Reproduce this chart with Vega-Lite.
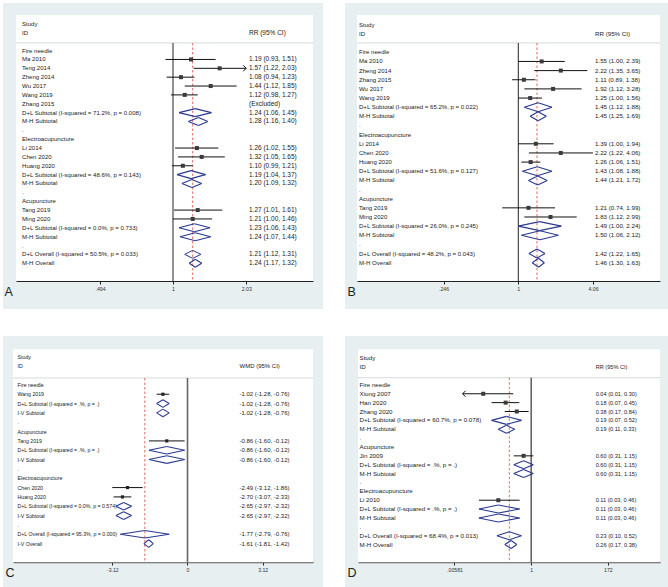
{
  "$schema": "https://vega.github.io/schema/vega-lite/v6.json",
  "background": "white",
  "padding": {"left": 3, "top": 3, "right": 0, "bottom": 0},
  "config": {
    "view": {"stroke": null, "fill": "#e8eff1"},
    "axisY": {"disable": true},
    "axisX": {"grid": false, "domainColor": "#222", "domainWidth": 1, "tickColor": "#222", "tickSize": 3, "labelFont": "Liberation Sans", "labelFontSize": 5.2, "labelColor": "#333", "labelPadding": 2, "labelFlush": false, "titleFont": "Liberation Sans", "titleFontSize": 12.5, "titleFontWeight": "normal", "titleColor": "#222", "titleAnchor": "start", "titleAlign": "left", "titleBaseline": "middle"},
    "text": {"font": "Liberation Sans", "color": "#222"}
  },
  "datasets": {
    "A": [
      {"r": -3, "label": "Study", "type": "head"},
      {"r": -2, "label": "ID", "type": "head", "ci": "RR (95% CI)"},
      {"r": 0, "label": "Fire needle", "type": "group"},
      {"r": 1, "label": "Ma 2010", "type": "study", "est": 1.19, "lo": 0.93, "hi": 1.51, "ci": "1.19 (0.93, 1.51)"},
      {"r": 2, "label": "Teng 2014", "type": "study", "est": 1.57, "lo": 1.22, "hi": 2.03, "ci": "1.57 (1.22, 2.03)", "arrow": "right"},
      {"r": 3, "label": "Zheng 2014", "type": "study", "est": 1.08, "lo": 0.94, "hi": 1.23, "ci": "1.08 (0.94, 1.23)"},
      {"r": 4, "label": "Wu 2017", "type": "study", "est": 1.44, "lo": 1.12, "hi": 1.85, "ci": "1.44 (1.12, 1.85)"},
      {"r": 5, "label": "Wang 2019", "type": "study", "est": 1.12, "lo": 0.98, "hi": 1.27, "ci": "1.12 (0.98, 1.27)"},
      {"r": 6, "label": "Zhang 2015", "type": "excl", "ci": "(Excluded)"},
      {"r": 7, "label": "D+L Subtotal  (I-squared = 71.2%, p = 0.008)", "type": "pool", "est": 1.24, "lo": 1.06, "hi": 1.45, "ci": "1.24 (1.06, 1.45)"},
      {"r": 8, "label": "M-H Subtotal", "type": "pool", "est": 1.28, "lo": 1.16, "hi": 1.40, "ci": "1.28 (1.16, 1.40)"},
      {"r": 9, "label": ".", "type": "blank"},
      {"r": 10, "label": "Electroacupuncture", "type": "group"},
      {"r": 11, "label": "Li 2014", "type": "study", "est": 1.26, "lo": 1.02, "hi": 1.55, "ci": "1.26 (1.02, 1.55)"},
      {"r": 12, "label": "Chen 2020", "type": "study", "est": 1.32, "lo": 1.05, "hi": 1.65, "ci": "1.32 (1.05, 1.65)"},
      {"r": 13, "label": "Huang 2020", "type": "study", "est": 1.10, "lo": 0.99, "hi": 1.21, "ci": "1.10 (0.99, 1.21)"},
      {"r": 14, "label": "D+L Subtotal  (I-squared = 48.6%, p = 0.143)", "type": "pool", "est": 1.19, "lo": 1.04, "hi": 1.37, "ci": "1.19 (1.04, 1.37)"},
      {"r": 15, "label": "M-H Subtotal", "type": "pool", "est": 1.20, "lo": 1.09, "hi": 1.32, "ci": "1.20 (1.09, 1.32)"},
      {"r": 16, "label": ".", "type": "blank"},
      {"r": 17, "label": "Acupuncture", "type": "group"},
      {"r": 18, "label": "Tang 2019", "type": "study", "est": 1.27, "lo": 1.01, "hi": 1.61, "ci": "1.27 (1.01, 1.61)"},
      {"r": 19, "label": "Ming 2020", "type": "study", "est": 1.21, "lo": 1.00, "hi": 1.46, "ci": "1.21 (1.00, 1.46)"},
      {"r": 20, "label": "D+L Subtotal  (I-squared = 0.0%, p = 0.733)", "type": "pool", "est": 1.23, "lo": 1.06, "hi": 1.43, "ci": "1.23 (1.06, 1.43)"},
      {"r": 21, "label": "M-H Subtotal", "type": "pool", "est": 1.24, "lo": 1.07, "hi": 1.44, "ci": "1.24 (1.07, 1.44)"},
      {"r": 22, "label": ".", "type": "blank"},
      {"r": 23, "label": "D+L Overall  (I-squared = 50.5%, p = 0.033)", "type": "overall", "est": 1.21, "lo": 1.12, "hi": 1.31, "ci": "1.21 (1.12, 1.31)"},
      {"r": 24, "label": "M-H Overall", "type": "overall", "est": 1.24, "lo": 1.17, "hi": 1.32, "ci": "1.24 (1.17, 1.32)"}
    ],
    "B": [
      {"r": -3, "label": "Study", "type": "head"},
      {"r": -2, "label": "ID", "type": "head", "ci": "RR (95% CI)"},
      {"r": 0, "label": "Fire needle", "type": "group"},
      {"r": 1, "label": "Ma 2010", "type": "study", "est": 1.55, "lo": 1.00, "hi": 2.39, "ci": "1.55 (1.00, 2.39)"},
      {"r": 2, "label": "Zheng 2014", "type": "study", "est": 2.22, "lo": 1.35, "hi": 3.65, "ci": "2.22 (1.35, 3.65)"},
      {"r": 3, "label": "Zhang 2015", "type": "study", "est": 1.11, "lo": 0.89, "hi": 1.38, "ci": "1.11 (0.89, 1.38)"},
      {"r": 4, "label": "Wu 2017", "type": "study", "est": 1.92, "lo": 1.12, "hi": 3.28, "ci": "1.92 (1.12, 3.28)"},
      {"r": 5, "label": "Wang 2019", "type": "study", "est": 1.25, "lo": 1.00, "hi": 1.56, "ci": "1.25 (1.00, 1.56)"},
      {"r": 6, "label": "D+L Subtotal  (I-squared = 65.2%, p = 0.022)", "type": "pool", "est": 1.45, "lo": 1.12, "hi": 1.88, "ci": "1.45 (1.12, 1.88)"},
      {"r": 7, "label": "M-H Subtotal", "type": "pool", "est": 1.45, "lo": 1.25, "hi": 1.69, "ci": "1.45 (1.25, 1.69)"},
      {"r": 8, "label": ".", "type": "blank"},
      {"r": 9, "label": "Electroacupuncture", "type": "group"},
      {"r": 10, "label": "Li 2014", "type": "study", "est": 1.39, "lo": 1.00, "hi": 1.94, "ci": "1.39 (1.00, 1.94)"},
      {"r": 11, "label": "Chen 2020", "type": "study", "est": 2.22, "lo": 1.22, "hi": 4.06, "ci": "2.22 (1.22, 4.06)"},
      {"r": 12, "label": "Huang 2020", "type": "study", "est": 1.26, "lo": 1.06, "hi": 1.51, "ci": "1.26 (1.06, 1.51)"},
      {"r": 13, "label": "D+L Subtotal  (I-squared = 51.6%, p = 0.127)", "type": "pool", "est": 1.43, "lo": 1.08, "hi": 1.88, "ci": "1.43 (1.08, 1.88)"},
      {"r": 14, "label": "M-H Subtotal", "type": "pool", "est": 1.44, "lo": 1.21, "hi": 1.72, "ci": "1.44 (1.21, 1.72)"},
      {"r": 15, "label": ".", "type": "blank"},
      {"r": 16, "label": "Acupuncture", "type": "group"},
      {"r": 17, "label": "Tang 2019", "type": "study", "est": 1.21, "lo": 0.74, "hi": 1.99, "ci": "1.21 (0.74, 1.99)"},
      {"r": 18, "label": "Ming 2020", "type": "study", "est": 1.83, "lo": 1.12, "hi": 2.99, "ci": "1.83 (1.12, 2.99)"},
      {"r": 19, "label": "D+L Subtotal  (I-squared = 26.0%, p = 0.245)", "type": "pool", "est": 1.49, "lo": 1.00, "hi": 2.24, "ci": "1.49 (1.00, 2.24)"},
      {"r": 20, "label": "M-H Subtotal", "type": "pool", "est": 1.50, "lo": 1.06, "hi": 2.12, "ci": "1.50 (1.06, 2.12)"},
      {"r": 21, "label": ".", "type": "blank"},
      {"r": 22, "label": "D+L Overall  (I-squared = 48.2%, p = 0.043)", "type": "overall", "est": 1.42, "lo": 1.22, "hi": 1.65, "ci": "1.42 (1.22, 1.65)"},
      {"r": 23, "label": "M-H Overall", "type": "overall", "est": 1.46, "lo": 1.30, "hi": 1.63, "ci": "1.46 (1.30, 1.63)"}
    ],
    "C": [
      {"r": -3, "label": "Study", "type": "head"},
      {"r": -2, "label": "ID", "type": "head", "ci": "WMD (95% CI)"},
      {"r": 0, "label": "Fire needle", "type": "group"},
      {"r": 1, "label": "Wang 2019", "type": "study", "est": -1.02, "lo": -1.28, "hi": -0.76, "ci": "-1.02 (-1.28, -0.76)"},
      {"r": 2, "label": "D+L Subtotal  (I-squared = .%, p = .)", "type": "pool", "est": -1.02, "lo": -1.28, "hi": -0.76, "ci": "-1.02 (-1.28, -0.76)"},
      {"r": 3, "label": "I-V Subtotal", "type": "pool", "est": -1.02, "lo": -1.28, "hi": -0.76, "ci": "-1.02 (-1.28, -0.76)"},
      {"r": 4, "label": ".", "type": "blank"},
      {"r": 5, "label": "Acupuncture", "type": "group"},
      {"r": 6, "label": "Tang 2019", "type": "study", "est": -0.86, "lo": -1.60, "hi": -0.12, "ci": "-0.86 (-1.60, -0.12)"},
      {"r": 7, "label": "D+L Subtotal  (I-squared = .%, p = .)", "type": "pool", "est": -0.86, "lo": -1.60, "hi": -0.12, "ci": "-0.86 (-1.60, -0.12)"},
      {"r": 8, "label": "I-V Subtotal", "type": "pool", "est": -0.86, "lo": -1.60, "hi": -0.12, "ci": "-0.86 (-1.60, -0.12)"},
      {"r": 9, "label": ".", "type": "blank"},
      {"r": 10, "label": "Electroacupuncture", "type": "group"},
      {"r": 11, "label": "Chen 2020", "type": "study", "est": -2.49, "lo": -3.12, "hi": -1.86, "ci": "-2.49 (-3.12, -1.86)"},
      {"r": 12, "label": "Huang 2020", "type": "study", "est": -2.70, "lo": -3.07, "hi": -2.33, "ci": "-2.70 (-3.07, -2.33)"},
      {"r": 13, "label": "D+L Subtotal  (I-squared = 0.0%, p = 0.574)", "type": "pool", "est": -2.65, "lo": -2.97, "hi": -2.32, "ci": "-2.65 (-2.97, -2.32)"},
      {"r": 14, "label": "I-V Subtotal", "type": "pool", "est": -2.65, "lo": -2.97, "hi": -2.32, "ci": "-2.65 (-2.97, -2.32)"},
      {"r": 15, "label": ".", "type": "blank"},
      {"r": 16, "label": "D+L Overall  (I-squared = 95.3%, p = 0.000)", "type": "overall", "est": -1.77, "lo": -2.79, "hi": -0.76, "ci": "-1.77 (-2.79, -0.76)"},
      {"r": 17, "label": "I-V Overall", "type": "overall", "est": -1.61, "lo": -1.81, "hi": -1.42, "ci": "-1.61 (-1.81, -1.42)"}
    ],
    "D": [
      {"r": -3, "label": "Study", "type": "head"},
      {"r": -2, "label": "ID", "type": "head", "ci": "RR (95% CI)"},
      {"r": 0, "label": "Fire needle", "type": "group"},
      {"r": 1, "label": "Xiong 2007", "type": "study", "est": 0.04, "lo": 0.01, "hi": 0.30, "ci": "0.04 (0.01, 0.30)", "arrow": "left"},
      {"r": 2, "label": "Han 2020", "type": "study", "est": 0.18, "lo": 0.07, "hi": 0.45, "ci": "0.18 (0.07, 0.45)"},
      {"r": 3, "label": "Zhang 2020", "type": "study", "est": 0.38, "lo": 0.17, "hi": 0.84, "ci": "0.38 (0.17, 0.84)"},
      {"r": 4, "label": "D+L Subtotal  (I-squared = 60.7%, p = 0.078)", "type": "pool", "est": 0.19, "lo": 0.07, "hi": 0.52, "ci": "0.19 (0.07, 0.52)"},
      {"r": 5, "label": "M-H Subtotal", "type": "pool", "est": 0.19, "lo": 0.11, "hi": 0.33, "ci": "0.19 (0.11, 0.33)"},
      {"r": 6, "label": ".", "type": "blank"},
      {"r": 7, "label": "Acupuncture", "type": "group"},
      {"r": 8, "label": "Jin 2009", "type": "study", "est": 0.60, "lo": 0.31, "hi": 1.15, "ci": "0.60 (0.31, 1.15)"},
      {"r": 9, "label": "D+L Subtotal  (I-squared = .%, p = .)", "type": "pool", "est": 0.60, "lo": 0.31, "hi": 1.15, "ci": "0.60 (0.31, 1.15)"},
      {"r": 10, "label": "M-H Subtotal", "type": "pool", "est": 0.60, "lo": 0.31, "hi": 1.15, "ci": "0.60 (0.31, 1.15)"},
      {"r": 11, "label": ".", "type": "blank"},
      {"r": 12, "label": "Electroacupuncture", "type": "group"},
      {"r": 13, "label": "Li 2010", "type": "study", "est": 0.11, "lo": 0.03, "hi": 0.46, "ci": "0.11 (0.03, 0.46)"},
      {"r": 14, "label": "D+L Subtotal  (I-squared = .%, p = .)", "type": "pool", "est": 0.11, "lo": 0.03, "hi": 0.46, "ci": "0.11 (0.03, 0.46)"},
      {"r": 15, "label": "M-H Subtotal", "type": "pool", "est": 0.11, "lo": 0.03, "hi": 0.46, "ci": "0.11 (0.03, 0.46)"},
      {"r": 16, "label": ".", "type": "blank"},
      {"r": 17, "label": "D+L Overall  (I-squared = 68.4%, p = 0.013)", "type": "overall", "est": 0.23, "lo": 0.10, "hi": 0.52, "ci": "0.23 (0.10, 0.52)"},
      {"r": 18, "label": "M-H Overall", "type": "overall", "est": 0.26, "lo": 0.17, "hi": 0.38, "ci": "0.26 (0.17, 0.38)"}
    ]
  },
  "vconcat": [
    {
      "hconcat": [
        {
          "width": 320, "height": 306,
          "data": {"name": "A"},
          "layer": [
            {"data": {"values": [{}]}, "mark": {"type": "rect", "color": "white"},
             "encoding": {
               "x": {"datum": 0.21905, "type": "quantitative", "scale": {"type": "log", "domain": [0.21905, 3.8728], "range": [13, 310], "nice": false},
                     "axis": {"values": [0.494, 1, 2.03], "labelExpr": "datum.value > 0 && datum.value < 1 ? substring(toString(datum.value), 1) : toString(datum.value)", "offset": -28, "title": "A", "titleX": 1, "titleY": 10}},
               "x2": {"datum": 3.8728},
               "y": {"datum": -4.02, "type": "quantitative", "scale": {"domain": [29.165, -5.3725], "nice": false, "zero": false}},
               "y2": {"datum": 26}}},
            {"data": {"values": [{}]}, "mark": {"type": "rule", "color": "#d3dadd", "strokeWidth": 1},
             "encoding": {"x": {"datum": 0.21905, "type": "quantitative"}, "x2": {"datum": 3.8728}, "y": {"datum": -0.86, "type": "quantitative"}}},
            {"data": {"values": [{}]}, "mark": {"type": "rule", "color": "#222", "strokeWidth": 1},
             "encoding": {"x": {"datum": 1, "type": "quantitative"}, "y": {"datum": -0.86, "type": "quantitative"}, "y2": {"datum": 26}}},
            {"transform": [{"filter": "datum.type == 'overall' && indexof(datum.label, 'D+L') == 0"}],
             "mark": {"type": "rule", "color": "#e2695e", "strokeWidth": 1, "strokeDash": [2.5, 2]},
             "encoding": {"x": {"field": "est", "type": "quantitative"}, "y": {"datum": -0.86, "type": "quantitative"}, "y2": {"datum": 26}}},
            {"transform": [{"filter": "datum.type == 'study'"}], "mark": {"type": "rule", "color": "#111", "strokeWidth": 1},
             "encoding": {"x": {"field": "lo", "type": "quantitative"}, "x2": {"field": "hi"}, "y": {"field": "r", "type": "quantitative"}}},
            {"transform": [{"filter": "datum.type == 'study'"}], "mark": {"type": "square", "size": 16, "color": "#3a3a3a", "opacity": 1},
             "encoding": {"x": {"field": "est", "type": "quantitative"}, "y": {"field": "r", "type": "quantitative"}}},
            {"transform": [{"filter": "datum.arrow == 'right'"}], "mark": {"type": "point", "shape": "M -1 -1 L 0 0 L -1 1", "filled": false, "color": "#111", "strokeWidth": 1, "size": 36, "opacity": 1},
             "encoding": {"x": {"field": "hi", "type": "quantitative"}, "y": {"field": "r", "type": "quantitative"}}},
            {"transform": [{"filter": "datum.type == 'pool' || datum.type == 'overall'"}], "mark": {"type": "rule", "color": "#2b3990", "strokeWidth": 1.1, "y2Offset": -4},
             "encoding": {"x": {"field": "lo", "type": "quantitative"}, "x2": {"field": "est"}, "y": {"field": "r", "type": "quantitative"}, "y2": {"field": "r"}}},
            {"transform": [{"filter": "datum.type == 'pool' || datum.type == 'overall'"}], "mark": {"type": "rule", "color": "#2b3990", "strokeWidth": 1.1, "y2Offset": 4},
             "encoding": {"x": {"field": "lo", "type": "quantitative"}, "x2": {"field": "est"}, "y": {"field": "r", "type": "quantitative"}, "y2": {"field": "r"}}},
            {"transform": [{"filter": "datum.type == 'pool' || datum.type == 'overall'"}], "mark": {"type": "rule", "color": "#2b3990", "strokeWidth": 1.1, "yOffset": -4},
             "encoding": {"x": {"field": "est", "type": "quantitative"}, "x2": {"field": "hi"}, "y": {"field": "r", "type": "quantitative"}, "y2": {"field": "r"}}},
            {"transform": [{"filter": "datum.type == 'pool' || datum.type == 'overall'"}], "mark": {"type": "rule", "color": "#2b3990", "strokeWidth": 1.1, "yOffset": 4},
             "encoding": {"x": {"field": "est", "type": "quantitative"}, "x2": {"field": "hi"}, "y": {"field": "r", "type": "quantitative"}, "y2": {"field": "r"}}},
            {"transform": [{"filter": "datum.label != null"}], "mark": {"type": "text", "align": "left", "baseline": "middle", "fontSize": 6.05},
             "encoding": {"x": {"datum": 0.2322, "type": "quantitative"}, "y": {"field": "r", "type": "quantitative"}, "text": {"field": "label"}}},
            {"transform": [{"filter": "datum.ci != null"}], "mark": {"type": "text", "align": "left", "baseline": "middle", "fontSize": 6.5},
             "encoding": {"x": {"datum": 2.0855, "type": "quantitative"}, "y": {"field": "r", "type": "quantitative"}, "text": {"field": "ci"}}}
          ]
        },
        {
          "width": 323, "height": 306,
          "data": {"name": "B"},
          "layer": [
            {"data": {"values": [{}]}, "mark": {"type": "rect", "color": "white"},
             "encoding": {
               "x": {"datum": 0.04849, "type": "quantitative", "scale": {"type": "log", "domain": [0.04849, 14.275], "range": [12, 315], "nice": false},
                     "axis": {"values": [0.246, 1, 4.06], "labelExpr": "datum.value > 0 && datum.value < 1 ? substring(toString(datum.value), 1) : toString(datum.value)", "offset": -28, "title": "B", "titleX": 2, "titleY": 10}},
               "x2": {"datum": 14.275},
               "y": {"datum": -4.08, "type": "quantitative", "scale": {"domain": [28.055, -5.388], "nice": false, "zero": false}},
               "y2": {"datum": 25}}},
            {"data": {"values": [{}]}, "mark": {"type": "rule", "color": "#d3dadd", "strokeWidth": 1},
             "encoding": {"x": {"datum": 0.04849, "type": "quantitative"}, "x2": {"datum": 14.275}, "y": {"datum": -1.02, "type": "quantitative"}}},
            {"data": {"values": [{}]}, "mark": {"type": "rule", "color": "#222", "strokeWidth": 1},
             "encoding": {"x": {"datum": 1, "type": "quantitative"}, "y": {"datum": -1.02, "type": "quantitative"}, "y2": {"datum": 25}}},
            {"transform": [{"filter": "datum.type == 'overall' && indexof(datum.label, 'D+L') == 0"}],
             "mark": {"type": "rule", "color": "#e2695e", "strokeWidth": 1, "strokeDash": [2.5, 2]},
             "encoding": {"x": {"field": "est", "type": "quantitative"}, "y": {"datum": -1.02, "type": "quantitative"}, "y2": {"datum": 25}}},
            {"transform": [{"filter": "datum.type == 'study'"}], "mark": {"type": "rule", "color": "#111", "strokeWidth": 1},
             "encoding": {"x": {"field": "lo", "type": "quantitative"}, "x2": {"field": "hi"}, "y": {"field": "r", "type": "quantitative"}}},
            {"transform": [{"filter": "datum.type == 'study'"}], "mark": {"type": "square", "size": 16, "color": "#3a3a3a", "opacity": 1},
             "encoding": {"x": {"field": "est", "type": "quantitative"}, "y": {"field": "r", "type": "quantitative"}}},
            {"transform": [{"filter": "datum.type == 'pool' || datum.type == 'overall'"}], "mark": {"type": "rule", "color": "#2b3990", "strokeWidth": 1.1, "y2Offset": -4.5},
             "encoding": {"x": {"field": "lo", "type": "quantitative"}, "x2": {"field": "est"}, "y": {"field": "r", "type": "quantitative"}, "y2": {"field": "r"}}},
            {"transform": [{"filter": "datum.type == 'pool' || datum.type == 'overall'"}], "mark": {"type": "rule", "color": "#2b3990", "strokeWidth": 1.1, "y2Offset": 4.5},
             "encoding": {"x": {"field": "lo", "type": "quantitative"}, "x2": {"field": "est"}, "y": {"field": "r", "type": "quantitative"}, "y2": {"field": "r"}}},
            {"transform": [{"filter": "datum.type == 'pool' || datum.type == 'overall'"}], "mark": {"type": "rule", "color": "#2b3990", "strokeWidth": 1.1, "yOffset": -4.5},
             "encoding": {"x": {"field": "est", "type": "quantitative"}, "x2": {"field": "hi"}, "y": {"field": "r", "type": "quantitative"}, "y2": {"field": "r"}}},
            {"transform": [{"filter": "datum.type == 'pool' || datum.type == 'overall'"}], "mark": {"type": "rule", "color": "#2b3990", "strokeWidth": 1.1, "yOffset": 4.5},
             "encoding": {"x": {"field": "est", "type": "quantitative"}, "x2": {"field": "hi"}, "y": {"field": "r", "type": "quantitative"}, "y2": {"field": "r"}}},
            {"transform": [{"filter": "datum.label != null"}], "mark": {"type": "text", "align": "left", "baseline": "middle", "fontSize": 6.05},
             "encoding": {"x": {"datum": 0.05035, "type": "quantitative"}, "y": {"field": "r", "type": "quantitative"}, "text": {"field": "label"}}},
            {"transform": [{"filter": "datum.ci != null"}], "mark": {"type": "text", "align": "left", "baseline": "middle", "fontSize": 6.2},
             "encoding": {"x": {"datum": 4.2166, "type": "quantitative"}, "y": {"field": "r", "type": "quantitative"}, "text": {"field": "ci"}}}
          ]
        }
      ],
      "spacing": 22
    },
    {
      "hconcat": [
        {
          "width": 320, "height": 251,
          "data": {"name": "C"},
          "layer": [
            {"data": {"values": [{}]}, "mark": {"type": "rect", "color": "white"},
             "encoding": {
               "x": {"datum": -7.2407, "type": "quantitative", "scale": {"type": "linear", "domain": [-7.2407, 5.2075], "range": [10, 310], "nice": false, "zero": false},
                     "axis": {"values": [-3.12, 0, 3.12], "labelExpr": "toString(datum.value)", "offset": -25, "title": "C", "titleX": 2, "titleY": 10, "domainColor": "#555", "domainWidth": 1.4}},
               "x2": {"datum": 5.2075},
               "y": {"datum": -3.81, "type": "quantitative", "scale": {"domain": [21.65, -5.238], "nice": false, "zero": false}},
               "y2": {"datum": 19}}},
            {"data": {"values": [{}]}, "mark": {"type": "rule", "color": "#d3dadd", "strokeWidth": 1},
             "encoding": {"x": {"datum": -7.2407, "type": "quantitative"}, "x2": {"datum": 5.2075}, "y": {"datum": -0.74, "type": "quantitative"}}},
            {"data": {"values": [{}]}, "mark": {"type": "rule", "color": "#666", "strokeWidth": 1.6},
             "encoding": {"x": {"datum": 0, "type": "quantitative"}, "y": {"datum": -0.74, "type": "quantitative"}, "y2": {"datum": 19}}},
            {"transform": [{"filter": "datum.type == 'overall' && indexof(datum.label, 'D+L') == 0"}],
             "mark": {"type": "rule", "color": "#e2695e", "strokeWidth": 1, "strokeDash": [2.5, 2]},
             "encoding": {"x": {"field": "est", "type": "quantitative"}, "y": {"datum": -0.74, "type": "quantitative"}, "y2": {"datum": 19}}},
            {"transform": [{"filter": "datum.type == 'study'"}], "mark": {"type": "rule", "color": "#111", "strokeWidth": 1},
             "encoding": {"x": {"field": "lo", "type": "quantitative"}, "x2": {"field": "hi"}, "y": {"field": "r", "type": "quantitative"}}},
            {"transform": [{"filter": "datum.type == 'study'"}], "mark": {"type": "square", "size": 10, "color": "#222", "opacity": 1},
             "encoding": {"x": {"field": "est", "type": "quantitative"}, "y": {"field": "r", "type": "quantitative"}}},
            {"transform": [{"filter": "datum.type == 'pool' || datum.type == 'overall'"}], "mark": {"type": "rule", "color": "#2b3990", "strokeWidth": 1.1, "y2Offset": -3.8},
             "encoding": {"x": {"field": "lo", "type": "quantitative"}, "x2": {"field": "est"}, "y": {"field": "r", "type": "quantitative"}, "y2": {"field": "r"}}},
            {"transform": [{"filter": "datum.type == 'pool' || datum.type == 'overall'"}], "mark": {"type": "rule", "color": "#2b3990", "strokeWidth": 1.1, "y2Offset": 3.8},
             "encoding": {"x": {"field": "lo", "type": "quantitative"}, "x2": {"field": "est"}, "y": {"field": "r", "type": "quantitative"}, "y2": {"field": "r"}}},
            {"transform": [{"filter": "datum.type == 'pool' || datum.type == 'overall'"}], "mark": {"type": "rule", "color": "#2b3990", "strokeWidth": 1.1, "yOffset": -3.8},
             "encoding": {"x": {"field": "est", "type": "quantitative"}, "x2": {"field": "hi"}, "y": {"field": "r", "type": "quantitative"}, "y2": {"field": "r"}}},
            {"transform": [{"filter": "datum.type == 'pool' || datum.type == 'overall'"}], "mark": {"type": "rule", "color": "#2b3990", "strokeWidth": 1.1, "yOffset": 3.8},
             "encoding": {"x": {"field": "est", "type": "quantitative"}, "x2": {"field": "hi"}, "y": {"field": "r", "type": "quantitative"}, "y2": {"field": "r"}}},
            {"transform": [{"filter": "datum.label != null"}], "mark": {"type": "text", "align": "left", "baseline": "middle", "fontSize": 5.2},
             "encoding": {"x": {"datum": -7.05, "type": "quantitative"}, "y": {"field": "r", "type": "quantitative"}, "text": {"field": "label"}}},
            {"transform": [{"filter": "datum.ci != null"}], "mark": {"type": "text", "align": "left", "baseline": "middle", "fontSize": 6.0},
             "encoding": {"x": {"datum": 2.1577, "type": "quantitative"}, "y": {"field": "r", "type": "quantitative"}, "text": {"field": "ci"}}}
          ]
        },
        {
          "width": 323, "height": 251,
          "data": {"name": "D"},
          "layer": [
            {"data": {"values": [{}]}, "mark": {"type": "rect", "color": "white"},
             "encoding": {
               "x": {"datum": 0.00000895, "type": "quantitative", "scale": {"type": "log", "domain": [0.00000895, 5675], "range": [13, 315], "nice": false},
                     "axis": {"values": [0.00581, 1, 172], "labelExpr": "datum.value > 0 && datum.value < 1 ? substring(toString(datum.value), 1) : toString(datum.value)", "offset": -25, "title": "D", "titleX": 2, "titleY": 10, "domainColor": "#555", "domainWidth": 1.4}},
               "x2": {"datum": 5675},
               "y": {"datum": -4.01, "type": "quantitative", "scale": {"domain": [22.785, -5.513], "nice": false, "zero": false}},
               "y2": {"datum": 20}}},
            {"data": {"values": [{}]}, "mark": {"type": "rule", "color": "#d3dadd", "strokeWidth": 1},
             "encoding": {"x": {"datum": 0.00000895, "type": "quantitative"}, "x2": {"datum": 5675}, "y": {"datum": -0.81, "type": "quantitative"}}},
            {"data": {"values": [{}]}, "mark": {"type": "rule", "color": "#666", "strokeWidth": 1.6},
             "encoding": {"x": {"datum": 1, "type": "quantitative"}, "y": {"datum": -0.81, "type": "quantitative"}, "y2": {"datum": 20}}},
            {"transform": [{"filter": "datum.type == 'overall' && indexof(datum.label, 'D+L') == 0"}],
             "mark": {"type": "rule", "color": "#e2695e", "strokeWidth": 1, "strokeDash": [2.5, 2]},
             "encoding": {"x": {"field": "est", "type": "quantitative"}, "y": {"datum": -0.81, "type": "quantitative"}, "y2": {"datum": 20}}},
            {"transform": [{"filter": "datum.type == 'study'"}], "mark": {"type": "rule", "color": "#111", "strokeWidth": 1},
             "encoding": {"x": {"field": "lo", "type": "quantitative"}, "x2": {"field": "hi"}, "y": {"field": "r", "type": "quantitative"}}},
            {"transform": [{"filter": "datum.type == 'study'"}], "mark": {"type": "square", "size": 16, "color": "#3a3a3a", "opacity": 1},
             "encoding": {"x": {"field": "est", "type": "quantitative"}, "y": {"field": "r", "type": "quantitative"}}},
            {"transform": [{"filter": "datum.arrow == 'left'"}], "mark": {"type": "point", "shape": "M 1 -1 L 0 0 L 1 1", "filled": false, "color": "#111", "strokeWidth": 1, "size": 36, "opacity": 1},
             "encoding": {"x": {"field": "lo", "type": "quantitative"}, "y": {"field": "r", "type": "quantitative"}}},
            {"transform": [{"filter": "datum.type == 'pool' || datum.type == 'overall'"}], "mark": {"type": "rule", "color": "#2b3990", "strokeWidth": 1.1, "y2Offset": -4},
             "encoding": {"x": {"field": "lo", "type": "quantitative"}, "x2": {"field": "est"}, "y": {"field": "r", "type": "quantitative"}, "y2": {"field": "r"}}},
            {"transform": [{"filter": "datum.type == 'pool' || datum.type == 'overall'"}], "mark": {"type": "rule", "color": "#2b3990", "strokeWidth": 1.1, "y2Offset": 4},
             "encoding": {"x": {"field": "lo", "type": "quantitative"}, "x2": {"field": "est"}, "y": {"field": "r", "type": "quantitative"}, "y2": {"field": "r"}}},
            {"transform": [{"filter": "datum.type == 'pool' || datum.type == 'overall'"}], "mark": {"type": "rule", "color": "#2b3990", "strokeWidth": 1.1, "yOffset": -4},
             "encoding": {"x": {"field": "est", "type": "quantitative"}, "x2": {"field": "hi"}, "y": {"field": "r", "type": "quantitative"}, "y2": {"field": "r"}}},
            {"transform": [{"filter": "datum.type == 'pool' || datum.type == 'overall'"}], "mark": {"type": "rule", "color": "#2b3990", "strokeWidth": 1.1, "yOffset": 4},
             "encoding": {"x": {"field": "est", "type": "quantitative"}, "x2": {"field": "hi"}, "y": {"field": "r", "type": "quantitative"}, "y2": {"field": "r"}}},
            {"transform": [{"filter": "datum.label != null"}], "mark": {"type": "text", "align": "left", "baseline": "middle", "fontSize": 6.2},
             "encoding": {"x": {"datum": 0.0000099, "type": "quantitative"}, "y": {"field": "r", "type": "quantitative"}, "text": {"field": "label"}}},
            {"transform": [{"filter": "datum.ci != null"}], "mark": {"type": "text", "align": "left", "baseline": "middle", "fontSize": 5.6},
             "encoding": {"x": {"datum": 75.86, "type": "quantitative"}, "y": {"field": "r", "type": "quantitative"}, "text": {"field": "ci"}}}
          ]
        }
      ],
      "spacing": 22
    }
  ],
  "spacing": 27
}
